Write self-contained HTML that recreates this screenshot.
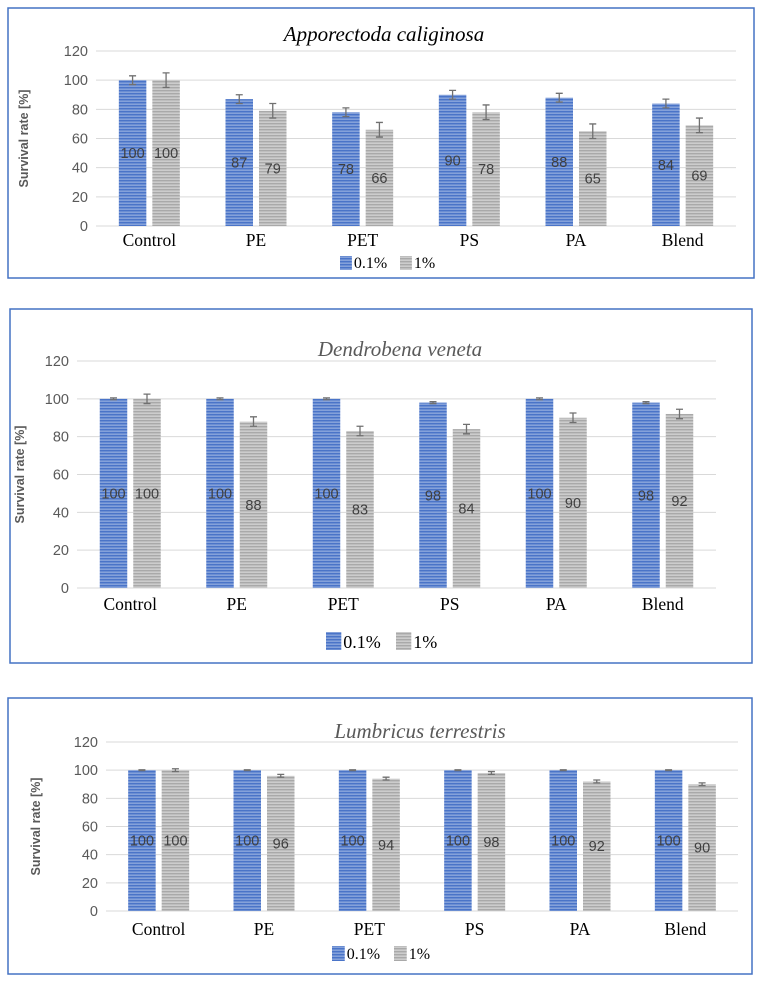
<!DOCTYPE html>
<html><head><meta charset="utf-8"><style>
html,body{margin:0;padding:0;background:#fff;width:762px;height:982px;overflow:hidden}
svg{display:block}
</style></head><body>
<svg id="root" width="762" height="982" xmlns="http://www.w3.org/2000/svg">
<defs>
<pattern id="pb" width="4" height="3" patternUnits="userSpaceOnUse"><rect width="4" height="3" fill="#4a74c8"/><rect y="1.6" width="4" height="1.1" fill="#9cb4e2"/></pattern>
<pattern id="pg" width="4" height="3" patternUnits="userSpaceOnUse"><rect width="4" height="3" fill="#a9a9a9"/><rect y="1.6" width="4" height="1.1" fill="#dcdcdc"/></pattern>
</defs>
</svg>
<script>
const categories = ["Control","PE","PET","PS","PA","Blend"];
const yTicks = [0,20,40,60,80,100,120];
const aLow = [100,87,78,90,88,84];
const aHigh = [100,79,66,78,65,69];
const aLowErr = [3,3,3,3,3,3];
const aHighErr = [5,5,5,5,5,5];
const dLow = [100,100,100,98,100,98];
const dHigh = [100,88,83,84,90,92];
const dLowErr = [0.5,0.5,0.5,0.5,0.5,0.5];
const dHighErr = [2.5,2.5,2.5,2.5,2.5,2.5];
const lLow = [100,100,100,100,100,100];
const lHigh = [100,96,94,98,92,90];
const lLowErr = [0.3,0.3,0.3,0.3,0.3,0.3];
const lHighErr = [1,1,1,1,1,1];

const svg = document.getElementById('root');
const NS = 'http://www.w3.org/2000/svg';
function mk(tag, attrs, parent){const e=document.createElementNS(NS,tag);for(const k in attrs)e.setAttribute(k,attrs[k]);(parent||svg).appendChild(e);return e;}

function chart(cfg, low, high, lowErr, highErr){
  const g = mk('g',{});
  
  
  const box = mk('rect',{x:cfg.bx,y:cfg.by,width:cfg.bw,height:cfg.bh,fill:'#fff',stroke:'#4472c4','stroke-width':1.5},g);
  
  
  const y = v => cfg.y0 - (v/120)*(cfg.y0-cfg.y120);
  const gw = (cfg.x1-cfg.x0)/categories.length;
  const cx = i => cfg.x0 + gw*(i+0.5);
  yTicks.forEach(t=>{
    if(t>0){const l=mk('line',{x1:cfg.gx,x2:cfg.x1,y1:y(t),y2:y(t),stroke:'#d9d9d9','stroke-width':1},g);
    
    }
    const tx=mk('text',{x:cfg.gx-8,y:y(t)+5,'text-anchor':'end','font-size':14.5,fill:'#595959','font-family':'Liberation Sans, sans-serif'},g);
    tx.textContent=t;
    
    
  });
  const ax=mk('line',{x1:cfg.gx,x2:cfg.x1,y1:y(0),y2:y(0),stroke:'#d9d9d9','stroke-width':1},g);
  
  
  const bw=27.5, gap=6;
  categories.forEach((c,i)=>{
    [[low,lowErr,'url(#pb)',-1,'bar-0.1'],[high,highErr,'url(#pg)',1,'bar-1']].forEach(([arr,err,fill,side,nm])=>{
      const v=arr[i];
      const x = side<0 ? cx(i)-gap/2-bw : cx(i)+gap/2;
      const r=mk('rect',{x:x,y:y(v),width:bw,height:y(0)-y(v),fill:fill},g);
      
      
      const mx=x+bw/2, e=err[i];
      const eb=mk('path',{d:`M${mx},${y(v+e)}V${y(v-e)}M${mx-3.5},${y(v+e)}H${mx+3.5}M${mx-3.5},${y(v-e)}H${mx+3.5}`,stroke:'#707070','stroke-width':1.3,fill:'none'},g);
      
      
      const lb=mk('text',{x:mx,y:y(v/2)+5,'text-anchor':'middle','font-size':14.5,fill:'#404040','font-family':'Liberation Sans, sans-serif'},g);
      lb.textContent=v;
      
      
    });
    const cl=mk('text',{x:cx(i),y:y(0)+cfg.catDy,'text-anchor':'middle','font-size':cfg.catFs,fill:'#000','font-family':'Liberation Serif, serif'},g);
    cl.textContent=c;
    
    
  });
  const ttl=mk('text',{x:cfg.tx,y:cfg.ty,'text-anchor':'middle','font-size':cfg.tfs,fill:cfg.tcol,'font-style':'italic','font-family':'Liberation Serif, serif'},g);
  ttl.textContent=cfg.title;
  
  
  const yt=mk('text',{x:0,y:0,'text-anchor':'middle','font-size':12.5,'font-weight':'bold',fill:'#595959','font-family':'Liberation Sans, sans-serif',transform:`translate(${cfg.yax},${(y(0)+y(120))/2}) rotate(-90)`},g);
  yt.textContent='Survival rate [%]';
  
  
  [['url(#pb)','0.1%',cfg.lx],['url(#pg)','1%',cfg.lx+cfg.lgap]].forEach(([f,t,lx])=>{
    const s=mk('rect',{x:lx,y:cfg.ly-cfg.ls,width:cfg.ls*0.85,height:cfg.ls,fill:f},g);
    
    
    const lt=mk('text',{x:lx+cfg.ls*0.85+2,y:cfg.ly-2,'font-size':cfg.lfs,fill:'#000','font-family':'Liberation Serif, serif'},g);
    lt.textContent=t;
    
    
  });
}
chart({name:'chart-apporectoda',bx:8,by:8,bw:746,bh:270,gx:96,x0:96,x1:736,y0:226,y120:51,catDy:20,catFs:17.5,title:'Apporectoda caliginosa',tx:384,ty:41,tfs:21,tcol:'#000',yax:28,lx:340,lgap:60,ly:270,ls:14,lfs:16},aLow,aHigh,aLowErr,aHighErr);
chart({name:'chart-dendrobena',bx:10,by:309,bw:742,bh:354,gx:77,x0:77,x1:716,y0:588,y120:361,catDy:22,catFs:17.5,title:'Dendrobena veneta',tx:400,ty:356,tfs:21,tcol:'#595959',yax:24,lx:326,lgap:70,ly:650,ls:18,lfs:18},dLow,dHigh,dLowErr,dHighErr);
chart({name:'chart-lumbricus',bx:8,by:698,bw:744,bh:276,gx:106,x0:106,x1:738,y0:911,y120:742,catDy:24,catFs:17.5,title:'Lumbricus terrestris',tx:420,ty:738,tfs:21,tcol:'#595959',yax:40,lx:332,lgap:62,ly:961,ls:15,lfs:16},lLow,lHigh,lLowErr,lHighErr);
</script>
</body></html>
